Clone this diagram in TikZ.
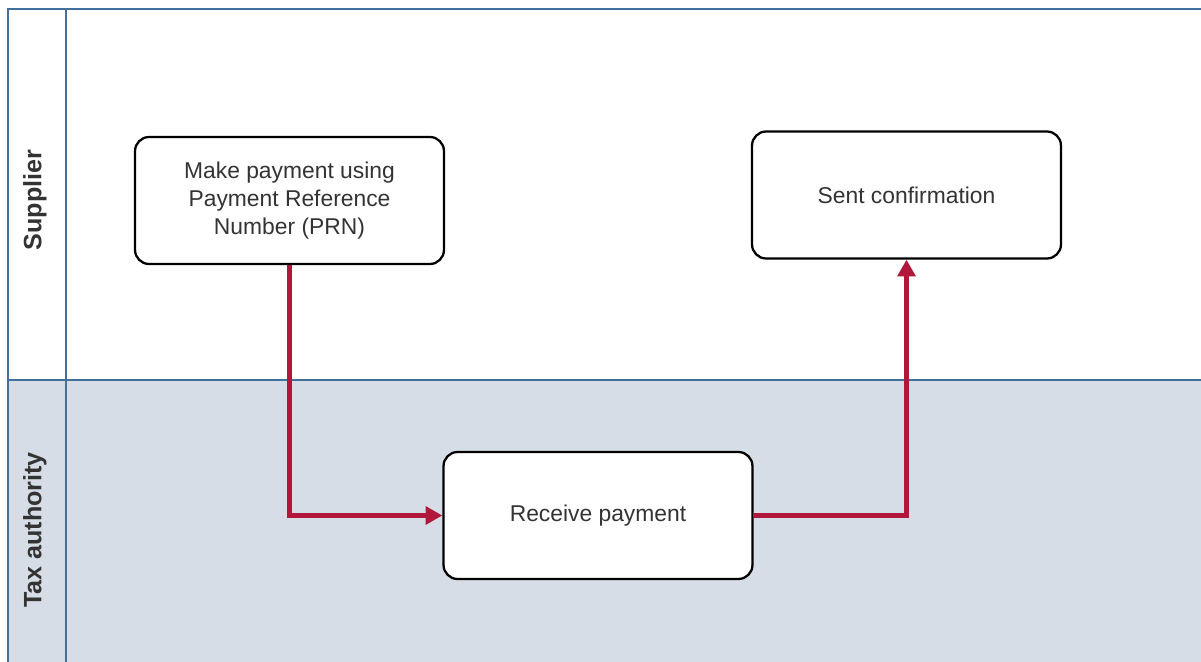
\documentclass[tikz,border=0pt]{standalone}
\usepackage{fontspec}
\setmainfont{Liberation Sans}
\usetikzlibrary{arrows.meta,positioning}
\definecolor{laneline}{HTML}{41709E}
\definecolor{lanefill}{HTML}{D6DDE6}
\definecolor{flowred}{HTML}{B0173A}
\definecolor{txt}{HTML}{333333}
\tikzset{>=Triangle,step box/.style={draw=black,line width=1.3pt,rounded corners=8pt,fill=white,align=center,minimum width=6.18cm,minimum height=2.54cm,text=txt,font=\fontsize{13}{16}\selectfont},flow/.style={->,line width=2.4pt,flowred,>={Triangle[width=10pt,length=9.5pt]}},lane/.style={draw=laneline,line width=1.1pt},lanelabel/.style={rotate=90,font=\bfseries\fontsize{14.3}{16}\selectfont,text=txt}}
\begin{document}
\begin{tikzpicture}[x=0.02cm,y=-0.02cm]
\useasboundingbox (0,0) rectangle (1201,662);
% lanes
\fill[lanefill] (8,380) rectangle (1201,662);
\draw[lane] (8,662) -- (8,9) -- (1201,9);
\draw[lane] (66,9) -- (66,662);
\draw[lane] (8,380) -- (1201,380);
\node[lanelabel] (supplier) at (35,200) {Supplier};
\node[lanelabel] (taxauth) at (35,530) {Tax authority};
% steps
\node[step box] (pay) at (289.5,200.5) {Make payment using\\Payment Reference\\Number (PRN)};
\node[step box] (confirm) at (906.5,195) {Sent confirmation};
\node[step box] (receive) at (598,515.5) {Receive payment};
% flows
\draw[flow] (pay.south) |- (receive.west);
\draw[flow] (receive.east) -| (confirm.south);
\end{tikzpicture}
\end{document}
